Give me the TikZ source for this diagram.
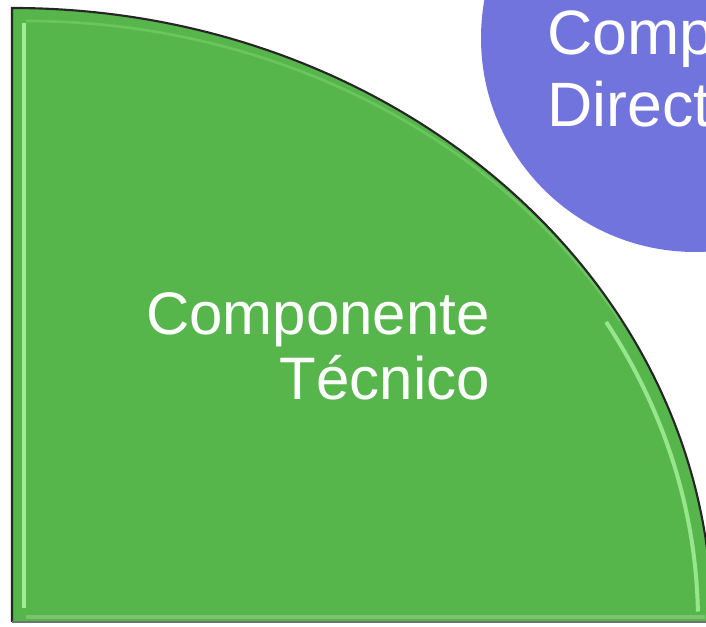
\documentclass[tikz,border=0pt]{standalone}
\usepackage{fontspec}
\setmainfont{Liberation Sans}

\definecolor{techgreen}{HTML}{56B64B}
\definecolor{bevelgreen}{HTML}{A8F29C}
\definecolor{dirblue}{HTML}{7274DE}

\begin{document}
\begin{tikzpicture}[x=0.75pt, y=0.75pt]

% Frame of the picture
\useasboundingbox (0,0) rectangle (706,627);
\clip (0,0) rectangle (706,627);

% Corner of the quarter shape
\coordinate (O) at (12,5);

% Blue circle (partly outside)
\fill[dirblue] (695,589) circle (214);

% Green quarter
\fill[techgreen] (O) -- (12,619) arc[start angle=90, end angle=0, x radius=700, y radius=614] -- cycle;

% Bevel highlights
\draw[bevelgreen, line width=3.5, opacity=0.9] (24,19) -- (24,604);
\draw[bevelgreen, line width=2, opacity=0.25] (26,606) arc[start angle=90, end angle=30, x radius=686, y radius=600];
\draw[bevelgreen, line width=3, opacity=0.8] (O) ++(30:686 and 600) arc[start angle=30, end angle=1, x radius=686, y radius=600];
\draw[techgreen!80!white, line width=2.5] (26,10) -- (705,10);

% Outline
\draw[black!85, line width=1.6] (12,5) -- (12,619) arc[start angle=90, end angle=0, x radius=700, y radius=614];
\draw[black!55, line width=1.6] (O) -- (712,5);

% Labels
\node[align=right, anchor=base east, inner sep=0, text=white,
      font=\fontsize{45}{48.75}\selectfont] (tech) at (490,227) {Componente\\Técnico};
\node[align=left, anchor=base west, inner sep=0, text=white,
      font=\fontsize{47}{54}\selectfont] (dir) at (547,500) {Comp\\Direct};

\end{tikzpicture}
\end{document}
